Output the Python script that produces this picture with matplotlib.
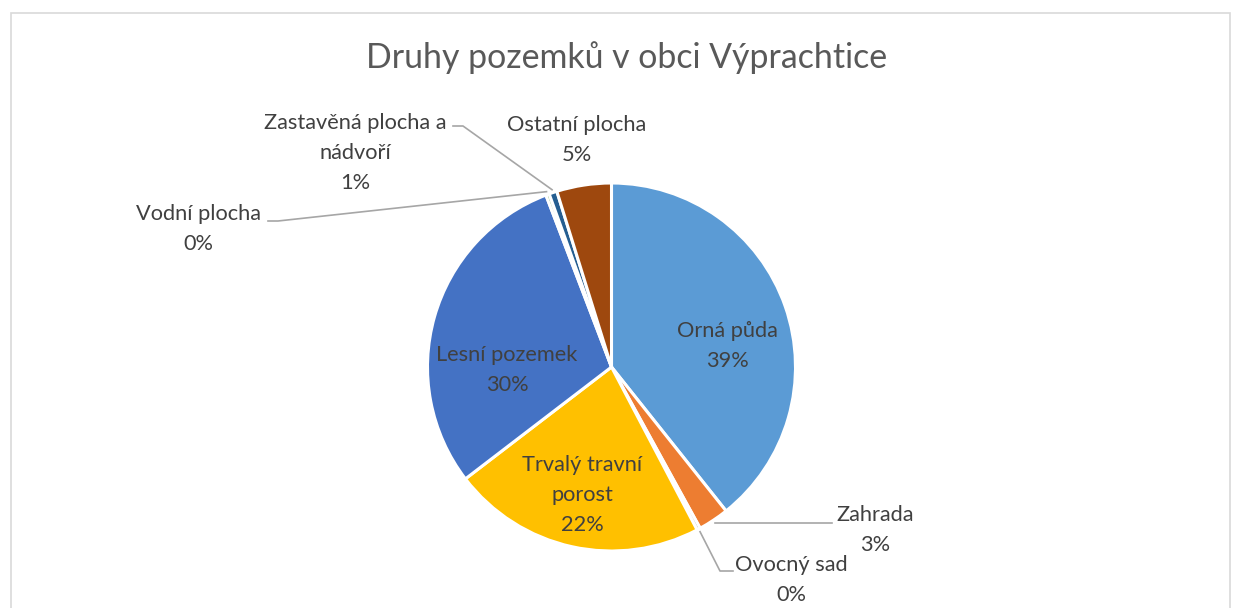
import matplotlib.pyplot as plt
from matplotlib.patches import Rectangle
import numpy as np

plt.rcParams['font.family'] = ['Lato', 'DejaVu Sans']

categories = ['Orná půda', 'Zahrada', 'Ovocný sad', 'Trvalý travní porost',
              'Lesní pozemek', 'Vodní plocha', 'Zastavěná plocha a nádvoří',
              'Ostatní plocha']
shares = [39.3, 2.7, 0.3, 22.3, 29.6, 0.3, 0.7, 4.8]
colors = ['#5B9BD5', '#ED7D31', '#A5A5A5', '#FFC000', '#4472C4', '#70AD47',
          '#255E91', '#9E480E']
label_text = ['Orná půda', 'Zahrada', 'Ovocný sad', 'Trvalý travní\nporost',
              'Lesní pozemek', 'Vodní plocha', 'Zastavěná plocha a\nnádvoří',
              'Ostatní plocha']

W, H = 1233, 608
fig = plt.figure(figsize=(W / 100, H / 100), dpi=100)
ax = fig.add_axes([0, 0, 1, 1])

def py(y):
    # pixel y from top -> data y
    return H - y

cx, cy, R = 611.5, py(367), 184
wedges, _ = ax.pie(shares, colors=colors, startangle=90, counterclock=False,
                   center=(cx, cy), radius=R,
                   wedgeprops=dict(edgecolor='white', linewidth=2.2))

# pie() resets the limits, so set them afterwards
ax.set_xlim(0, W)
ax.set_ylim(0, H)
ax.set_aspect('equal')
ax.axis('off')

# chart frame
ax.add_patch(Rectangle((11, -10), W - 14, py(13) + 10, fill=False,
                       edgecolor='#D9D9D9', linewidth=1.2))

ax.text(627, py(58), 'Druhy pozemků v obci Výprachtice', ha='center',
        va='center', fontsize=24.4, color='#595959')

# label layout: (center x, center y from top), leader points
layout = [
    ((727, 346), None),
    ((875, 530), [(832, None)]),
    ((791, 580), [(720, 571), (733, 571)]),
    ((582, 495), None),
    ((507, 370), None),
    ((198, 229), [(278, 221), (268, 221)]),
    ((355, 153), [(463, 126), (453, 126)]),
    ((577, 140), None),
]

for w, txt, val, (pos, leader) in zip(wedges, label_text, shares, layout):
    s = f'{txt}\n{round(val):.0f}%'
    ax.text(pos[0], py(pos[1]), s, ha='center', va='center', fontsize=15.7,
            color='#404040', linespacing=1.6)
    if leader:
        mid = np.deg2rad((w.theta1 + w.theta2) / 2)
        x0 = cx + (R + 3) * np.cos(mid)
        y0 = cy + (R + 3) * np.sin(mid)
        xs, ys = [x0], [y0]
        for lx, ly in leader:
            xs.append(lx)
            ys.append(y0 if ly is None else py(ly))
        ax.plot(xs, ys, color='#A6A6A6', linewidth=1.2)

fig.savefig('out.png', dpi=100)
